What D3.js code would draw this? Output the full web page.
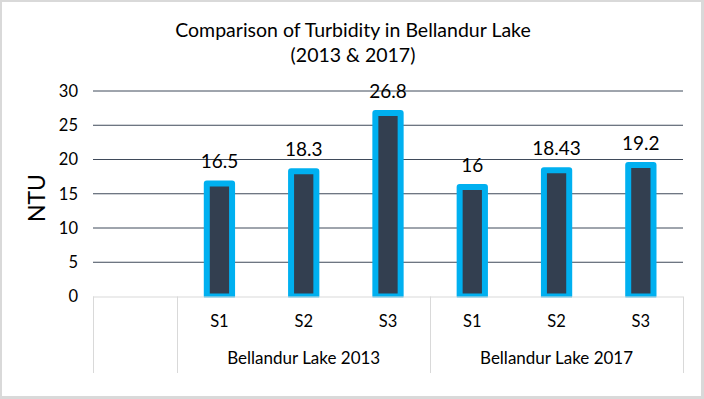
<!DOCTYPE html>
<html>
<head>
<meta charset="utf-8">
<script src="https://cdn.jsdelivr.net/npm/d3@7"></script>
<style>
  html, body { margin: 0; padding: 0; background: #fff; }
  svg { display: block; font-family: Lato, "Open Sans", sans-serif; }
</style>
</head>
<body>
<div id="chart"></div>
<script>
  const titleLines = ['Comparison of Turbidity in Bellandur Lake', '(2013 & 2017)'];
  const sites = ['S1', 'S2', 'S3'];
  const groups = ['Bellandur Lake 2013', 'Bellandur Lake 2017'];
  const values2013 = [16.5, 18.3, 26.8];
  const values2017 = [16, 18.43, 19.2];
  const yTicks = [0, 5, 10, 15, 20, 25, 30];
  const yLabel = 'NTU';

  const W = 704, H = 399;
  const plot = { left: 93, right: 683, top: 91, bottom: 296.5 };

  // one blank slot, then the two groups of sites
  const rows = [{ key: 'blank', site: '', group: null, value: null }];
  [values2013, values2017].forEach((vals, gi) => {
    vals.forEach((v, i) => rows.push({ key: gi + '-' + sites[i], site: sites[i], group: gi, value: v }));
  });

  const svg = d3.select('#chart').append('svg')
    .attr('width', W).attr('height', H);

  // frame
  svg.append('rect').attr('width', W).attr('height', H).attr('fill', '#d9d9d9');
  svg.append('rect').attr('x', 2).attr('y', 2).attr('width', 699).attr('height', 394).attr('fill', '#fff');

  const x = d3.scaleBand().domain(rows.map(d => d.key)).range([plot.left, plot.right]).padding(0);
  const y = d3.scaleLinear().domain([0, 30]).range([plot.bottom, plot.top]);

  // title
  svg.append('g').selectAll('text').data(titleLines).join('text')
    .attr('x', 353).attr('y', (d, i) => 37 + i * 25)
    .attr('text-anchor', 'middle')
    .attr('font-size', '19.5px').attr('fill', '#000')
    .text(d => d);

  // gridlines
  svg.append('g').selectAll('line').data(yTicks.filter(t => t > 0)).join('line')
    .attr('x1', plot.left).attr('x2', plot.right)
    .attr('y1', d => y(d)).attr('y2', d => y(d))
    .attr('stroke', '#3f4a5a').attr('stroke-width', 1);

  // y tick labels
  svg.append('g').selectAll('text').data(yTicks).join('text')
    .attr('x', 78).attr('y', d => y(d))
    .attr('dy', '0.36em')
    .attr('text-anchor', 'end')
    .attr('font-size', '16.5px').attr('fill', '#000')
    .text(d => d);

  // y axis title
  svg.append('text')
    .attr('transform', 'translate(45,198) rotate(-90)')
    .attr('text-anchor', 'middle')
    .attr('font-size', '23px').attr('fill', '#000')
    .text(yLabel);

  // bars
  svg.append('clipPath').attr('id', 'plot-clip')
    .append('rect').attr('x', 0).attr('y', 0).attr('width', W).attr('height', plot.bottom + 1);

  const barW = x.bandwidth() * 0.3;
  const bars = rows.filter(d => d.value !== null);

  svg.append('g').attr('clip-path', 'url(#plot-clip)')
    .selectAll('rect').data(bars).join('rect')
    .attr('x', d => x(d.key) + x.bandwidth() / 2 - barW / 2)
    .attr('y', d => y(d.value))
    .attr('width', barW)
    .attr('height', d => y(0) - y(d.value))
    .attr('fill', '#333f50')
    .attr('stroke', '#00b0f0')
    .attr('stroke-width', 6)
    .attr('stroke-linejoin', 'round');

  // value labels
  svg.append('g').selectAll('text').data(bars).join('text')
    .attr('x', d => x(d.key) + x.bandwidth() / 2)
    .attr('y', d => y(d.value) - 15)
    .attr('text-anchor', 'middle')
    .attr('font-size', '19px').attr('fill', '#000')
    .text(d => d.value);

  // category axis
  const axis = svg.append('g');
  axis.append('line')
    .attr('x1', plot.left).attr('x2', plot.right)
    .attr('y1', plot.bottom + 0.5).attr('y2', plot.bottom + 0.5)
    .attr('stroke', '#d9d9d9');

  const sepX = [plot.left, x(rows[1].key), x(rows[4].key), plot.right];
  axis.selectAll('line.sep').data(sepX).join('line')
    .attr('class', 'sep')
    .attr('x1', d => Math.round(d) + 0.5).attr('x2', d => Math.round(d) + 0.5)
    .attr('y1', plot.bottom).attr('y2', 373)
    .attr('stroke', '#d9d9d9');

  axis.selectAll('text.site').data(bars).join('text')
    .attr('class', 'site')
    .attr('x', d => x(d.key) + x.bandwidth() / 2)
    .attr('y', 327)
    .attr('text-anchor', 'middle')
    .attr('font-size', '16.5px').attr('fill', '#000')
    .text(d => d.site);

  axis.selectAll('text.group').data(groups).join('text')
    .attr('class', 'group')
    .attr('x', (d, i) => (sepX[i + 1] + sepX[i + 2]) / 2)
    .attr('y', 364)
    .attr('text-anchor', 'middle')
    .attr('font-size', '17px').attr('fill', '#000')
    .text(d => d);
</script>
</body>
</html>
